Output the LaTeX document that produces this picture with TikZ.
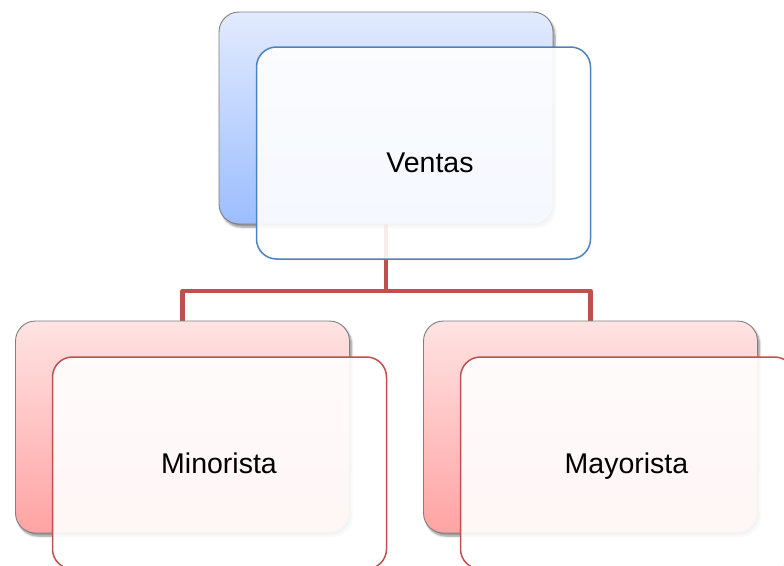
\documentclass[tikz,border=0pt]{standalone}
\usepackage{fontspec}
\setmainfont{Liberation Sans}
\usetikzlibrary{shadows.blur,backgrounds}
\definecolor{accblue}{HTML}{4F81BD}
\definecolor{accred}{HTML}{C0504D}
\definecolor{bluetop}{HTML}{E2EBFD}
\definecolor{bluebot}{HTML}{9CBDFF}
\definecolor{redtop}{HTML}{FFE3E3}
\definecolor{redbot}{HTML}{FFA3A3}
\definecolor{edgegray}{HTML}{7F7F7F}
\tikzset{
  backbox/.style={rectangle, rounded corners=20pt, minimum width=334pt, minimum height=212pt,
    inner sep=0pt, draw=edgegray, line width=0.9pt,
    blur shadow={shadow xshift=2pt, shadow yshift=-3pt, shadow blur steps=6, shadow opacity=45}},
  blueback/.style={backbox, top color=bluetop, bottom color=bluebot},
  redback/.style={backbox, top color=redtop, bottom color=redbot},
  frontbox/.style={rectangle, rounded corners=20pt, minimum width=334pt, minimum height=212pt,
    inner sep=0pt, fill=white, fill opacity=0.9, line width=1.5pt},
  bluefront/.style={frontbox, draw=accblue},
  redfront/.style={frontbox, draw=accred},
  lbl/.style={anchor=base, inner sep=0pt, font=\fontsize{28.5}{34}\selectfont, text=black},
  conn/.style={draw=accred, line width=4.6pt, line join=round}
}
\begin{document}
\begin{tikzpicture}[x=1pt, y=-1pt]
  \useasboundingbox (0,0) rectangle (784,565);
  \clip (0,0) rectangle (784,565);

  % back cards
  \node[blueback] (vb) at (386,118) {};
  \node[redback] (mib) at (182.5,427) {};
  \node[redback] (mab) at (590.5,427) {};

  % tree connectors, kept behind the cards
  \coordinate (split) at (386,291);
  \begin{scope}[on background layer]
    \draw[conn] (vb.south) -- (split) -| (mib.north);
    \draw[conn] (split) -| (mab.north);
  \end{scope}

  % front cards
  \node[bluefront] (vf) at (423.5,153) {};
  \node[redfront] (mif) at (219.5,463) {};
  \node[redfront] (maf) at (627.5,463) {};

  % labels
  \node[lbl] (vt) at (430,172) {Ventas};
  \node[lbl] (mit) at (219,473) {Minorista};
  \node[lbl] (mat) at (626.5,473) {Mayorista};
\end{tikzpicture}
\end{document}
